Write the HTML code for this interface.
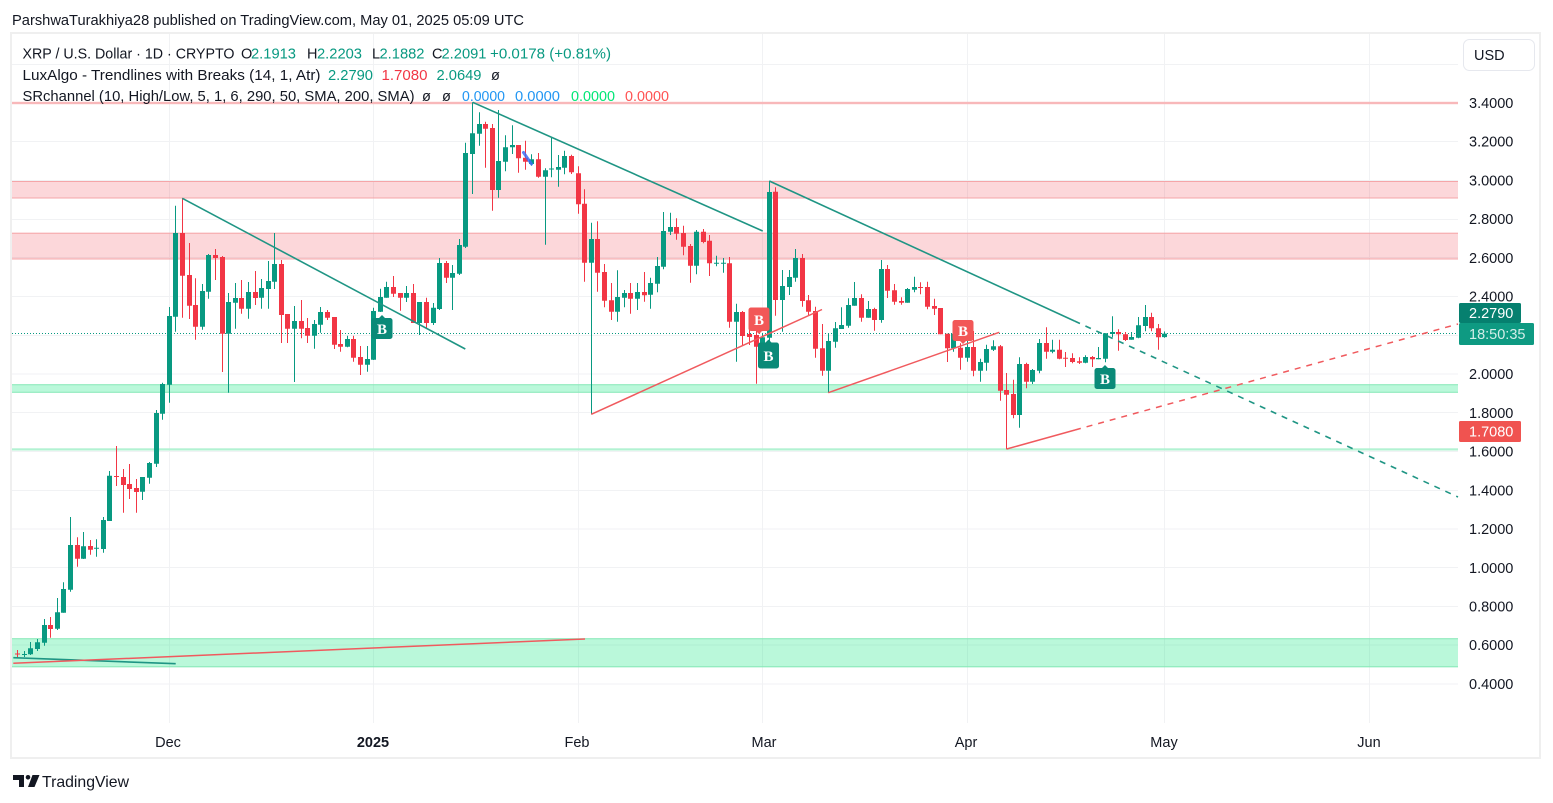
<!DOCTYPE html>
<html><head><meta charset="utf-8"><style>
html,body{margin:0;padding:0;background:#fff;}
svg{display:block;font-family:"Liberation Sans",sans-serif;}
</style></head><body>
<svg width="1553" height="803" viewBox="0 0 1553 803" xmlns="http://www.w3.org/2000/svg">
<rect width="1553" height="803" fill="#fff"/>
<!-- header -->
<text x="12" y="25" font-size="15" fill="#131722" textLength="512" lengthAdjust="spacingAndGlyphs">ParshwaTurakhiya28 published on TradingView.com, May 01, 2025 05:09 UTC</text>
<!-- frame -->
<rect x="11" y="33" width="1529" height="725" fill="none" stroke="#efefef" stroke-width="2"/>
<!-- grid -->
<g stroke="#f1f2f4" stroke-width="1">
<path d="M12 64.5H1458M12 103H1458M12 141.5H1458M12 180.5H1458M12 219.5H1458M12 257.5H1458M12 296.5H1458M12 335.5H1458M12 374H1458M12 412.5H1458M12 451.5H1458M12 490.5H1458M12 529H1458M12 567.5H1458M12 606.5H1458M12 645H1458M12 684H1458"/>
<path d="M169.5 34V723M373.5 34V723M578.5 34V723M762.5 34V723M967.5 34V723M1164.5 34V723M1369.5 34V723"/>
</g>
<!-- zones -->
<rect x="12" y="101.8" width="1446" height="2.4" fill="#f8b8ba"/>
<rect x="12" y="181" width="1446" height="17.5" fill="#f23645" fill-opacity="0.2"/>
<path d="M12 181.5H1458M12 198H1458" stroke="#f5a5a8" stroke-width="1"/>
<rect x="12" y="232.7" width="1446" height="26.8" fill="#f23645" fill-opacity="0.2"/>
<path d="M12 233.2H1458M12 259H1458" stroke="#f5a5a8" stroke-width="1"/>
<rect x="12" y="384.3" width="1446" height="8.4" fill="#00e676" fill-opacity="0.27"/>
<path d="M12 384.8H1458M12 392.2H1458" stroke="#88e8b8" stroke-width="1"/>
<rect x="12" y="448.3" width="1446" height="2.2" fill="#b2f2d2"/>
<rect x="12" y="638.3" width="1446" height="29" fill="#00e676" fill-opacity="0.27"/>
<path d="M12 638.8H1458M12 666.8H1458" stroke="#88e8b8" stroke-width="1"/>
<!-- price line -->
<path d="M12 333.5H1458" stroke="#089981" stroke-width="1" stroke-dasharray="1 2"/>
<!-- candles -->
<path fill="none" stroke="#089981" stroke-width="1" d="M24.5 651V657 M30.5 642V655 M37.5 639V651 M44.5 619V645.7 M57.5 598V630 M63.5 582.3V612.7 M70.5 517V591.7 M83.5 532V559 M96.5 539.3V556.7 M103.5 517V552.7 M109.5 471V521 M142.5 477V500 M149.5 462V483.7 M156.5 410V467 M162.5 382.7V419.7 M169.5 307V402.7 M175.5 205.7V331.7 M202.5 284V329.7 M208.5 254V298.7 M228.5 293V392.7 M235.5 283V328.7 M248.5 282V318.7 M261.5 279V308.7 M268.5 261V308.7 M274.5 233V289 M294.5 306V382 M314.5 320V348.7 M320.5 307V332.7 M347.5 335.7V347.3 M367.5 346V371.7 M373.5 307.7V360 M380.5 288.7V312 M386.5 281.7V297.7 M406.5 286V302 M419.5 302V335 M433.5 303V325 M439.5 258V310 M452.5 265V310 M459.5 239V275 M465.5 142.7V248 M472.5 102.3V194 M479.5 112.3V145.7 M498.5 110V197.7 M505.5 135.3V171.3 M512.5 125.3V154 M531.5 154.3V165.7 M545.5 168.3V244.7 M551.5 138V177.3 M558.5 155V186.7 M564.5 150.7V174.3 M591.5 222.7V414.3 M617.5 270.3V321.7 M624.5 290V307.3 M637.5 283V310 M650.5 277.7V308.7 M657.5 257V292.3 M663.5 212V269.3 M670.5 212.7V235 M696.5 230V274.3 M716.5 255.7V266.3 M723.5 258V272.7 M736.5 303.7V361.7 M762.5 333V348.3 M769.5 181V341 M782.5 270V331.7 M789.5 270V295 M795.5 249V281.7 M828.5 333.3V392.7 M835.5 322V347.7 M841.5 307.3V329 M848.5 298.3V327.7 M854.5 282V305.7 M868.5 301V317.7 M881.5 260V322.7 M907.5 288V302.7 M914.5 276.7V292.3 M953.5 330.7V351.7 M967.5 335V361.7 M980.5 358.7V381.7 M986.5 344.7V370.7 M993.5 340.3V351 M1019.5 357.3V427.7 M1032.5 369V384 M1039.5 339V373.3 M1052.5 339.7V353.3 M1085.5 355.3V363.3 M1098.5 347V359.3 M1105.5 333.3V362.3 M1112.5 316.3V337.3 M1131.5 332V339.7 M1138.5 317V338.3 M1145.5 305V331.3 M1164.5 331.5V337.7"/>
<path fill="#089981" d="M22 654h5V655h-5z M28 648.3h5V654.3h-5z M35 642.3h5V649h-5z M42 625h5V642.7h-5z M55 612.3h5V628.7h-5z M61 589h5V612.7h-5z M68 545h5V589.7h-5z M81 546.3h5V558.7h-5z M94 547.8h5V548.8h-5z M101 520h5V549h-5z M107 475.7h5V521h-5z M140 477h5V491.7h-5z M147 463h5V477.7h-5z M154 413h5V463.7h-5z M160 384h5V413.7h-5z M167 316h5V384.7h-5z M173 233h5V316.7h-5z M200 291h5V326.7h-5z M206 255h5V291.7h-5z M226 302h5V333.7h-5z M233 298h5V302.7h-5z M246 292h5V308.7h-5z M259 288h5V297.7h-5z M266 281h5V289h-5z M272 264h5V281.7h-5z M292 321h5V328.7h-5z M312 324h5V335.7h-5z M318 312h5V324.7h-5z M345 339h5V346.7h-5z M365 359h5V364.7h-5z M371 311h5V359.7h-5z M378 297h5V311.7h-5z M384 287h5V297.7h-5z M404 293h5V297.7h-5z M417 302h5V323h-5z M431 307.7h5V323h-5z M437 263h5V309h-5z M450 273h5V277.7h-5z M457 245h5V273.7h-5z M463 153h5V246.7h-5z M470 133.3h5V154h-5z M477 124h5V133.7h-5z M496 161h5V190h-5z M503 147.3h5V161.7h-5z M510 145h5V147.3h-5z M529 159.3h5V164h-5z M543 170.3h5V176.7h-5z M549 168.5h5V169.5h-5z M556 167h5V169.7h-5z M562 156h5V167.7h-5z M589 239h5V262.7h-5z M615 297h5V311.7h-5z M622 293h5V297.7h-5z M635 292h5V298.7h-5z M648 283h5V294.7h-5z M655 266h5V283.7h-5z M661 231h5V266.7h-5z M668 227h5V231.7h-5z M694 231.7h5V265.7h-5z M714 262.8h5V263.8h-5z M721 262.8h5V263.8h-5z M734 312h5V321.7h-5z M760 337.3h5V346.7h-5z M767 192h5V337.7h-5z M780 286h5V300h-5z M787 277h5V287h-5z M793 258h5V277.7h-5z M826 341h5V370.7h-5z M833 328.3h5V341.7h-5z M839 325h5V329h-5z M846 305h5V325.7h-5z M852 298h5V305.7h-5z M866 309h5V317.7h-5z M879 269h5V320h-5z M905 289h5V302.7h-5z M912 287h5V289.7h-5z M951 333.7h5V348.3h-5z M965 347h5V357.7h-5z M978 362h5V370.7h-5z M984 349h5V362.7h-5z M991 346.3h5V349.7h-5z M1017 364h5V415h-5z M1030 370h5V381.7h-5z M1037 343h5V370.7h-5z M1050 349.7h5V351.7h-5z M1083 357h5V362.7h-5z M1096 358h5V359.3h-5z M1103 333.3h5V358.7h-5z M1110 332h5V334h-5z M1129 337h5V339.7h-5z M1136 325.3h5V337.7h-5z M1143 317h5V326h-5z M1162 333.6h5V337.1h-5z"/>
<path fill="none" stroke="#f23645" stroke-width="1" d="M17.5 650V658 M50.5 617V637.7 M77.5 537.3V566.7 M90.5 540V554.7 M116.5 446V486 M123.5 469V512.7 M129.5 464V499 M136.5 479V512.7 M182.5 198.3V317.7 M189.5 243V319 M195.5 278.3V339.7 M215.5 249V280 M222.5 256V372 M241.5 280V313.7 M255.5 271V305 M281.5 260V343 M287.5 314V343 M301.5 300V338.3 M307.5 318V343 M327.5 310V320 M334.5 317V349 M340.5 330V351.7 M353.5 335.7V361.7 M360.5 346V375 M393.5 276V297 M400.5 293V310.7 M413.5 284V323 M426.5 297.7V329 M446.5 261V283 M485.5 121.7V167.7 M492.5 124V210.7 M518.5 145V172.7 M525.5 140.7V169.7 M538.5 153V177.7 M571.5 154.7V174 M578.5 166.3V213.7 M584.5 189.3V281.7 M597.5 221.3V291.7 M604.5 264V307.3 M611.5 283V320 M630.5 283V313.7 M644.5 272V301.7 M676.5 218.3V239.7 M683.5 225.7V255.3 M690.5 244V282.7 M703.5 229V243.3 M709.5 235V276 M729.5 257V327.7 M742.5 311V345 M749.5 328V345 M756.5 328.3V383.7 M775.5 187.3V315.7 M802.5 254V306.7 M808.5 295V315.7 M815.5 306.7V357.7 M822.5 324V375.7 M861.5 294.3V321.7 M874.5 307.7V330.7 M887.5 265V298 M894.5 284V304.7 M901.5 297.3V304.7 M920.5 282.3V294.3 M927.5 281.7V309.3 M934.5 298.7V315 M940.5 308V334.3 M947.5 333.7V362 M960.5 343.3V369.7 M973.5 331V376.3 M1000.5 345V400.7 M1006.5 373V449.3 M1013.5 379.7V418.3 M1026.5 362.7V388.3 M1046.5 327.3V358.7 M1059.5 339.7V359.3 M1065.5 352V367 M1072.5 353.3V363.3 M1079.5 357.3V364 M1092.5 356V367 M1118.5 329.3V350.7 M1125.5 332V341 M1151.5 312.7V331.3 M1158.5 324V349.7"/>
<path fill="#f23645" d="M15 653.5h5V654.5h-5z M48 625h5V629h-5z M75 545h5V558.7h-5z M88 546h5V549.7h-5z M114 476h5V477h-5z M121 477h5V485h-5z M127 484h5V489h-5z M134 488h5V492h-5z M180 233h5V275.7h-5z M187 275h5V305.7h-5z M193 305h5V326.7h-5z M213 255h5V258h-5z M220 257h5V333.7h-5z M239 298h5V308.7h-5z M253 292h5V298h-5z M279 264h5V315h-5z M285 314h5V328.7h-5z M299 321h5V328.7h-5z M305 328h5V335.7h-5z M325 312h5V317.7h-5z M332 317h5V344.7h-5z M338 344h5V346.7h-5z M351 339h5V357.7h-5z M358 357h5V364.7h-5z M391 287h5V293.7h-5z M398 293h5V297.7h-5z M411 293h5V323h-5z M424 302h5V323h-5z M444 263h5V277.7h-5z M483 124h5V128.7h-5z M490 128h5V190h-5z M516 145h5V158.3h-5z M523 157.7h5V161.7h-5z M536 159.3h5V176.7h-5z M569 156h5V172.3h-5z M576 173.3h5V204.3h-5z M582 203.7h5V262.7h-5z M595 239h5V272.7h-5z M602 272h5V300.7h-5z M609 300.3h5V311.7h-5z M628 293h5V298.7h-5z M642 292h5V295.3h-5z M674 227h5V233.7h-5z M681 233h5V246.7h-5z M688 246h5V265.7h-5z M701 231.7h5V242h-5z M707 240.7h5V263.3h-5z M727 263.3h5V321.7h-5z M740 312h5V336h-5z M747 334h5V337h-5z M754 335h5V346.7h-5z M773 191.7h5V300h-5z M800 258h5V301h-5z M806 300.3h5V311.7h-5z M813 311h5V348.7h-5z M820 348.3h5V370.7h-5z M859 298h5V317.7h-5z M872 309h5V320h-5z M885 269h5V290.7h-5z M892 290.3h5V301.7h-5z M899 301h5V302.7h-5z M918 287h5V288h-5z M925 287h5V306.7h-5z M932 306h5V308.7h-5z M938 308h5V334.3h-5z M945 333.7h5V348.3h-5z M958 347.7h5V357.7h-5z M971 347h5V370.7h-5z M998 346.3h5V390.7h-5z M1004 390h5V394.7h-5z M1011 394h5V415h-5z M1024 364h5V381.7h-5z M1044 343h5V351.7h-5z M1057 349.7h5V358.7h-5z M1063 357.8h5V358.8h-5z M1070 358h5V362h-5z M1077 361.3h5V362.7h-5z M1090 357h5V359.3h-5z M1116 332h5V334.3h-5z M1123 334.3h5V340h-5z M1149 317h5V328.3h-5z M1156 328.3h5V337.3h-5z"/>
<!-- blue mark -->
<path d="M523.5 152.5L531.5 164" stroke="#3d6cf5" stroke-width="3" stroke-linecap="round" stroke-opacity="0.85"/>
<!-- trendlines -->
<g stroke="#1f9584" stroke-width="1.6" fill="none">
<path d="M182.3 198.3L465.3 349"/>
<path d="M472.7 102.3L762.7 231"/>
<path d="M769.3 181L1074.5 321"/>
<path d="M13.3 657.7L175.7 663.7"/>
<path d="M1074.5 321L1458 497" stroke-dasharray="6 6"/>
</g>
<g stroke="#f05a5e" stroke-width="1.5" fill="none">
<path d="M591.3 414.3L822 309.5"/>
<path d="M828.3 392.7L999.3 332.3"/>
<path d="M1006.7 449L1075 430"/>
<path d="M13.3 663.3L585 639"/>
<path d="M1075 430L1458 324" stroke-dasharray="6 6"/>
</g>
<!-- B labels -->
<g font-family="Liberation Serif, serif" font-weight="bold" font-size="15" fill="#fff" text-anchor="middle">
<path d="M374 318h5l3 -3l3 3h5a2.5 2.5 0 0 1 2.5 2.5v16a2.5 2.5 0 0 1 -2.5 2.5h-16a2.5 2.5 0 0 1 -2.5 -2.5v-16a2.5 2.5 0 0 1 2.5 -2.5z" fill="#0a8a78"/>
<text x="382" y="334">B</text>
<path d="M760.5 342.5h5l3 -3l3 3h5a2.5 2.5 0 0 1 2.5 2.5v21a2.5 2.5 0 0 1 -2.5 2.5h-16a2.5 2.5 0 0 1 -2.5 -2.5v-21a2.5 2.5 0 0 1 2.5 -2.5z" fill="#0a8a78"/>
<text x="768.5" y="361">B</text>
<path d="M1097 368h5l3 -3l3 3h5a2.5 2.5 0 0 1 2.5 2.5v16a2.5 2.5 0 0 1 -2.5 2.5h-16a2.5 2.5 0 0 1 -2.5 -2.5v-16a2.5 2.5 0 0 1 2.5 -2.5z" fill="#0a8a78"/>
<text x="1105" y="384">B</text>
<path d="M751 307.5h16a2.5 2.5 0 0 1 2.5 2.5v18.5a2.5 2.5 0 0 1 -2.5 2.5h-5l-3 3l-3 -3h-5a2.5 2.5 0 0 1 -2.5 -2.5v-18.5a2.5 2.5 0 0 1 2.5 -2.5z" fill="#f25757"/>
<text x="759" y="325">B</text>
<path d="M955 320h16a2.5 2.5 0 0 1 2.5 2.5v16a2.5 2.5 0 0 1 -2.5 2.5h-5l-3 3l-3 -3h-5a2.5 2.5 0 0 1 -2.5 -2.5v-16a2.5 2.5 0 0 1 2.5 -2.5z" fill="#f25757"/>
<text x="963" y="336">B</text>
</g>
<!-- legend -->
<g font-size="14.5" fill="#131722">
<text x="22.5" y="58.5" textLength="212" lengthAdjust="spacingAndGlyphs">XRP / U.S. Dollar · 1D · CRYPTO</text>
<text x="241" y="58.5">O</text><text x="251" y="58.5" fill="#089981" textLength="45" lengthAdjust="spacingAndGlyphs">2.1913</text>
<text x="307" y="58.5">H</text><text x="317" y="58.5" fill="#089981" textLength="45" lengthAdjust="spacingAndGlyphs">2.2203</text>
<text x="372" y="58.5">L</text><text x="379.5" y="58.5" fill="#089981" textLength="45" lengthAdjust="spacingAndGlyphs">2.1882</text>
<text x="432" y="58.5">C</text><text x="441.5" y="58.5" fill="#089981" textLength="45" lengthAdjust="spacingAndGlyphs">2.2091</text>
<text x="490" y="58.5" fill="#089981" textLength="121" lengthAdjust="spacingAndGlyphs">+0.0178 (+0.81%)</text>
<text x="22.5" y="80" textLength="298" lengthAdjust="spacingAndGlyphs">LuxAlgo - Trendlines with Breaks (14, 1, Atr)</text>
<text x="328" y="80" fill="#089981" textLength="45" lengthAdjust="spacingAndGlyphs">2.2790</text>
<text x="381.5" y="80" fill="#f23645" textLength="46" lengthAdjust="spacingAndGlyphs">1.7080</text>
<text x="436.5" y="80" fill="#089981" textLength="45" lengthAdjust="spacingAndGlyphs">2.0649</text>
<text x="491" y="80">ø</text>
<text x="22.5" y="101" textLength="392" lengthAdjust="spacingAndGlyphs">SRchannel (10, High/Low, 5, 1, 6, 290, 50, SMA, 200, SMA)</text>
<text x="422" y="101">ø</text><text x="442" y="101">ø</text>
<text x="462" y="101" fill="#2196f3" textLength="43" lengthAdjust="spacingAndGlyphs">0.0000</text>
<text x="515" y="101" fill="#2196f3" textLength="45" lengthAdjust="spacingAndGlyphs">0.0000</text>
<text x="571" y="101" fill="#00e676" textLength="44" lengthAdjust="spacingAndGlyphs">0.0000</text>
<text x="625" y="101" fill="#ff5252" textLength="44" lengthAdjust="spacingAndGlyphs">0.0000</text>
</g>
<!-- price axis -->
<rect x="1463.5" y="39.5" width="71" height="31" rx="6" fill="#fff" stroke="#e6e8ee"/>
<text x="1474" y="60" font-size="14.5" fill="#131722">USD</text>
<g font-size="14.5" fill="#131722">
<text x="1469" y="108">3.4000</text>
<text x="1469" y="146.7">3.2000</text>
<text x="1469" y="185.5">3.0000</text>
<text x="1469" y="224.2">2.8000</text>
<text x="1469" y="262.9">2.6000</text>
<text x="1469" y="301.7">2.4000</text>
<text x="1469" y="379.1">2.0000</text>
<text x="1469" y="417.9">1.8000</text>
<text x="1469" y="456.6">1.6000</text>
<text x="1469" y="495.3">1.4000</text>
<text x="1469" y="534.1">1.2000</text>
<text x="1469" y="572.8">1.0000</text>
<text x="1469" y="611.5">0.8000</text>
<text x="1469" y="650.2">0.6000</text>
<text x="1469" y="689">0.4000</text>
</g>
<rect x="1459" y="303" width="62" height="20" rx="1.5" fill="#06806f"/>
<text x="1469" y="318" font-size="14.5" fill="#fff">2.2790</text>
<rect x="1459" y="323" width="75" height="22" rx="1.5" fill="#0e9a82"/>
<text x="1469" y="339" font-size="14.5" fill="#fff" fill-opacity="0.82">18:50:35</text>
<rect x="1459" y="421" width="62" height="21" rx="1.5" fill="#f05350"/>
<text x="1469" y="436.5" font-size="14.5" fill="#fff">1.7080</text>
<!-- time axis -->
<g font-size="14.5" fill="#131722" text-anchor="middle">
<text x="168" y="747">Dec</text>
<text x="373" y="747" font-weight="bold">2025</text>
<text x="577" y="747">Feb</text>
<text x="764" y="747">Mar</text>
<text x="966" y="747">Apr</text>
<text x="1164" y="747">May</text>
<text x="1369" y="747">Jun</text>
</g>
<!-- logo -->
<path d="M13 775H24V787H19V780H13Z" fill="#131722"/>
<circle cx="28" cy="777.3" r="2.3" fill="#131722"/>
<path d="M32.5 775H39.5L34.5 787H28Z" fill="#131722"/>
<text x="42" y="787" font-size="16" fill="#131722" textLength="87" lengthAdjust="spacingAndGlyphs">TradingView</text>
</svg>
</body></html>
